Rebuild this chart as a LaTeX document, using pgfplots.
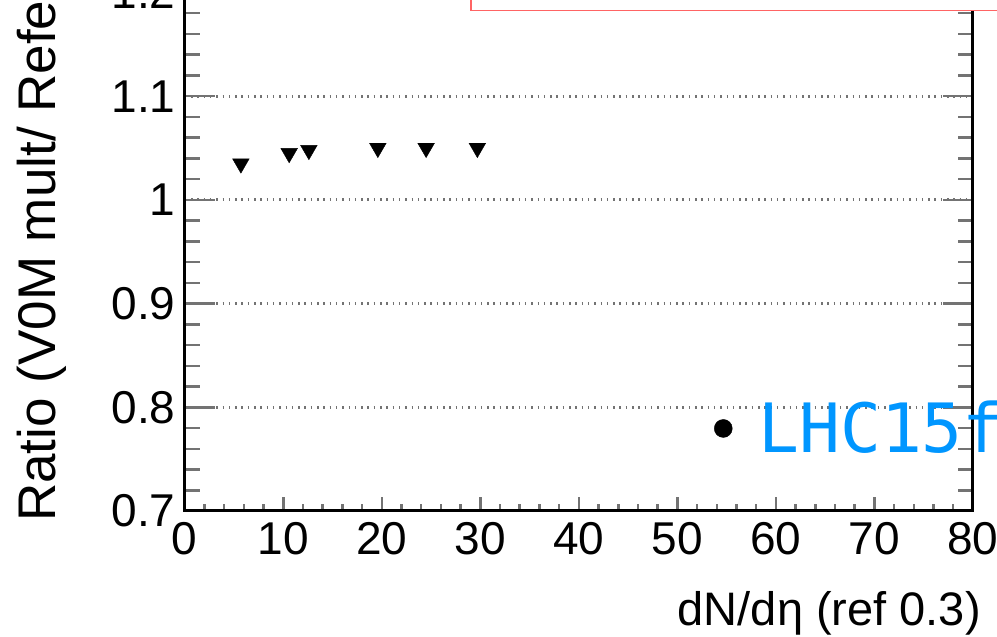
\documentclass[border=0pt]{standalone}
\usepackage{fontspec}
\setmainfont{Liberation Sans}
\newfontfamily\legendmono{DejaVu Sans Mono}
\usepackage{pgfplots}
\pgfplotsset{compat=1.18}
\definecolor{lhcblue}{RGB}{0,150,255}
\definecolor{boxred}{RGB}{255,100,100}
\begin{document}
\begin{tikzpicture}[x=1bp,y=1bp]
\begin{scope}
\clip (0,0) rectangle (997,637);
\begin{axis}[
  at={(187.5,121.5)}, anchor=south west,
  scale only axis, width=788.2bp, height=622.2bp,
  xmin=0, xmax=80, ymin=0.7, ymax=1.3,
  xtick={0,10,20,30,40,50,60,70,80},
  ytick={0.7,0.8,0.9,1,1.1,1.2,1.3},
  minor x tick num=4, minor y tick num=4,
  tick align=inside,
  axis line style={line width=3bp, black},
  tick style={line width=2.5bp, black!55},
  x tick style={/pgfplots/major tick length=14bp,/pgfplots/minor tick length=7bp},
  y tick style={/pgfplots/major tick length=30bp,/pgfplots/minor tick length=15bp},
  ymajorgrids,
  major grid style={line width=3bp, black!55, dash pattern=on 1.5bp off 4.8bp},
  /pgf/number format/assume math mode=true,
  ticklabel style={font=\fontsize{46bp}{52bp}\selectfont},
  xticklabel style={inner sep=0pt, yshift=-11bp},
  yticklabel style={inner sep=0pt, xshift=-9bp},
  clip mode=individual,
]
% V0M multiplicity ratio per class
\addplot[only marks, mark=triangle*, mark size=9.6bp,
  mark options={rotate=180, fill=black, draw=black}]
  coordinates {(5.7,1.035) (10.6,1.045) (12.6,1.048) (19.6,1.050) (24.5,1.050) (29.7,1.050)};
% LHC15f marker
\addplot[only marks, mark=*, mark size=9bp, black] coordinates {(54.66,0.7796)};
\end{axis}
% legend frame
\draw[boxred, line width=1.3bp, fill=white] (471,626.5) rectangle (1010,700);
\node[anchor=base west, inner sep=0pt, text=lhcblue,
  font=\legendmono\fontsize{68bp}{72bp}\selectfont] at (758,184.3) {LHC15f};
\node[anchor=base east, inner sep=0pt, font=\fontsize{47bp}{52bp}\selectfont]
  at (981,11) {dN/dη (ref 0.3)};
\node[rotate=90, anchor=base west, inner sep=0pt, font=\fontsize{53bp}{58bp}\selectfont]
  at (55,115) {Ratio (V0M mult/ Reference mult)};
\end{scope}
\pgfresetboundingbox
\useasboundingbox (0,0) rectangle (997,637);
\end{tikzpicture}
\end{document}
